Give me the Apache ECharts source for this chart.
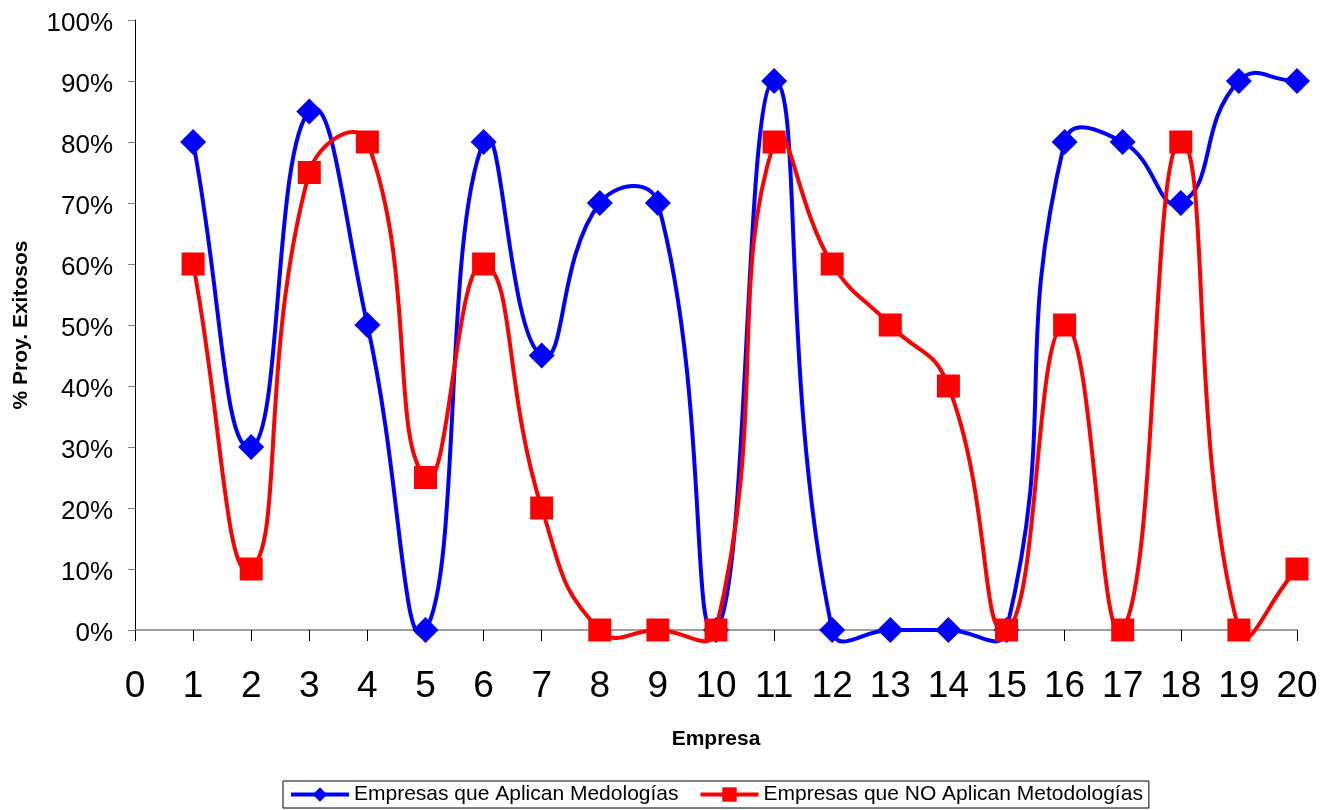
<!DOCTYPE html>
<html><head><meta charset="utf-8">
<script src="https://cdn.jsdelivr.net/npm/echarts@6/dist/echarts.min.js"></script>
<style>html,body{margin:0;padding:0;background:#fff}#c{width:1333px;height:810px}</style>
</head><body><div id="c"></div>
<script>
const empresas = [1,2,3,4,5,6,7,8,9,10,11,12,13,14,15,16,17,18,19,20];
const aplican = [80,30,85,50,0,80,45,70,70,0,90,0,0,0,0,80,80,70,90,90];
const noAplican = [60,10,75,80,25,60,20,0,0,0,80,60,50,40,0,50,0,80,0,10];
const seriesNames = ['Empresas que Aplican Medologías','Empresas que NO Aplican Metodologías'];
const BLUE = '#0000FF', RED = '#FF0000';

// Excel-like smoothing (unclamped bezier through the library's coordinates)
function smoothRenderer(xs, ys, color) {
  const S = 0.5;
  return function (params, api) {
    const i = params.dataIndex;
    if (i >= xs.length - 1) return null;
    const P = k => api.coord([xs[Math.max(0, Math.min(xs.length - 1, k))], ys[Math.max(0, Math.min(xs.length - 1, k))]]);
    const p0 = P(i - 1), p1 = P(i), p2 = P(i + 1), p3 = P(i + 2);
    const d = (a, b) => Math.hypot(b[0] - a[0], b[1] - a[1]);
    function outCp(prev, cur, next) {
      const lp = d(prev, cur), ln = d(cur, next);
      const r = (lp + ln) ? ln / (lp + ln) : 0.5;
      return [cur[0] + (next[0] - prev[0]) * S * r, cur[1] + (next[1] - prev[1]) * S * r];
    }
    function inCp(prev, cur, next) {
      const lp = d(prev, cur), ln = d(cur, next);
      const r = (lp + ln) ? lp / (lp + ln) : 0.5;
      return [cur[0] - (next[0] - prev[0]) * S * r, cur[1] - (next[1] - prev[1]) * S * r];
    }
    const c1 = outCp(p0, p1, p2);
    const c2 = inCp(p1, p2, p3);
    return {
      type: 'bezierCurve',
      shape: {x1: p1[0], y1: p1[1], x2: p2[0], y2: p2[1], cpx1: c1[0], cpy1: c1[1], cpx2: c2[0], cpy2: c2[1]},
      style: {stroke: color, lineWidth: 4, fill: null},
      silent: true
    };
  };
}

const chart = echarts.init(document.getElementById('c'));
const font = 'Arial, "Liberation Sans", sans-serif';
chart.setOption({
  animation:false,
  grid:{left:135,right:36,top:20,bottom:180,containLabel:false,outerBoundsMode:'none'},
  xAxis:{type:'value',min:0,max:20,interval:1,
    name:'Empresa',nameLocation:'middle',nameGap:99,
    nameTextStyle:{fontFamily:font,fontWeight:'bold',fontSize:21,color:'#000'},
    axisLine:{onZero:false,lineStyle:{color:'#808080',width:1.5}},
    axisTick:{show:true,length:11,lineStyle:{color:'#000'}},
    axisLabel:{fontFamily:font,fontSize:37,color:'#000',margin:38},
    splitLine:{show:false}},
  yAxis:{type:'value',min:0,max:100,interval:10,
    name:'% Proy. Exitosos',nameLocation:'middle',nameGap:103,nameRotate:90,
    nameTextStyle:{fontFamily:font,fontWeight:'bold',fontSize:21,color:'#000'},
    axisLine:{show:true,lineStyle:{color:'#000',width:1}},
    axisTick:{show:true,length:7,inside:false,lineStyle:{color:'#808080'}},
    axisLabel:{margin:22,formatter:'{a|{value}%}',
      rich:{a:{fontFamily:font,fontSize:26,color:'#000',padding:[7,0,0,0]}}},
    splitLine:{show:false}},
  legend:{bottom:2,left:283,
    borderColor:'#000',borderWidth:1,padding:[3,6,3,6],itemGap:20,
    itemWidth:58,itemHeight:18,
    textStyle:{fontFamily:font,fontSize:21,color:'#000'},
    data:[
      {name:seriesNames[0],lineStyle:{color:BLUE,width:4,opacity:1}},
      {name:seriesNames[1],lineStyle:{color:RED,width:4,opacity:1}}
    ]},
  series:[
    {type:'custom',name:'curva1',renderItem:smoothRenderer(empresas, aplican, BLUE),
     data:empresas.map((x,i)=>[x,aplican[i]]),z:2},
    {name:seriesNames[0],type:'line',
     data:empresas.map((x,i)=>[x,aplican[i]]),
     symbol:'diamond',symbolSize:26,
     lineStyle:{color:BLUE,width:4,opacity:0},
     itemStyle:{color:BLUE},z:3},
    {type:'custom',name:'curva2',renderItem:smoothRenderer(empresas, noAplican, RED),
     data:empresas.map((x,i)=>[x,noAplican[i]]),z:4},
    {name:seriesNames[1],type:'line',
     data:empresas.map((x,i)=>[x,noAplican[i]]),
     symbol:'rect',symbolSize:23,
     lineStyle:{color:RED,width:4,opacity:0},
     itemStyle:{color:RED},z:5}
  ]
});
</script></body></html>
